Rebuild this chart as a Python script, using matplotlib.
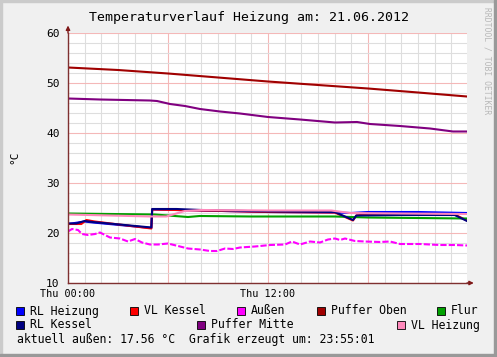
import matplotlib
matplotlib.use("Agg")
import matplotlib.pyplot as plt
from matplotlib.patches import Rectangle
from matplotlib.ticker import MultipleLocator

# hours since Thu 00:00 -> temperature in °C
t_rl_heizung = [0, 1.0, 1.5, 5.0, 5.05, 8, 12, 16.0, 17.0, 18.0, 21.0, 23.94]
v_rl_heizung = [21.8, 22.3, 22.1, 21.0, 24.7, 24.5, 24.2, 24.1, 24.0, 24.2, 24.2, 24.0]

t_vl_kessel = [0, 0.8, 1.1, 1.6, 5.0, 5.05, 8, 12, 16.0, 17.1, 17.3, 18.0, 23.2, 23.94]
v_vl_kessel = [21.8, 21.8, 22.6, 22.3, 20.9, 24.7, 24.5, 24.2, 24.1, 22.5, 23.5, 23.8, 23.7, 22.5]

t_aussen = [0, 0.24, 0.6, 0.84, 1.2, 1.62, 1.92, 2.52, 3.12, 3.6, 4.02, 4.44, 4.92,
            5.4, 6.0, 6.6, 7.2, 7.92, 8.52, 8.94, 9.42, 9.9, 10.32, 11.22, 12.12,
            13.02, 13.44, 13.92, 14.52, 15.12, 15.6, 16.02, 16.32, 16.62, 17.22,
            17.82, 18.72, 19.32, 19.92, 21.12, 22.32, 23.22, 23.94]
v_aussen = [20.3, 20.8, 20.6, 19.8, 19.6, 19.8, 20.1, 19.1, 18.9, 18.3, 18.8, 18.1, 17.7,
            17.7, 17.9, 17.4, 16.9, 16.7, 16.4, 16.4, 16.9, 16.8, 17.1, 17.3, 17.6,
            17.7, 18.3, 17.7, 18.3, 18.1, 18.7, 18.9, 18.6, 18.9, 18.4,
            18.3, 18.2, 18.3, 17.8, 17.8, 17.6, 17.6, 17.5]

t_puffer_oben = [0, 3, 6, 9, 12, 15, 18, 21, 23.94]
v_puffer_oben = [53.1, 52.6, 51.9, 51.1, 50.3, 49.6, 48.9, 48.1, 47.3]

t_flur = [0, 5.2, 7.2, 7.9, 11, 16, 18, 21, 23.94]
v_flur = [23.9, 23.7, 23.2, 23.4, 23.3, 23.3, 23.1, 23.0, 22.9]

t_rl_kessel = [0, 0.5, 1.0, 1.5, 5.0, 5.05, 6.5, 8, 12, 16.0, 17.1, 17.3, 20, 23.2, 23.94]
v_rl_kessel = [21.9, 21.9, 22.4, 22.2, 21.1, 24.8, 24.8, 24.6, 24.3, 24.2, 22.6, 23.5, 23.6, 23.6, 22.4]

t_puffer_mitte = [0, 1.92, 4.92, 5.34, 6.12, 7.02, 7.92, 9.12, 10.32, 12, 13.92,
                  16.02, 17.34, 18.12, 19.92, 21.72, 23.1, 23.94]
v_puffer_mitte = [46.9, 46.7, 46.5, 46.4, 45.8, 45.4, 44.8, 44.3, 43.9, 43.2, 42.7,
                  42.1, 42.2, 41.8, 41.4, 40.9, 40.3, 40.3]

t_vl_heizung = [0, 5.0, 5.9, 7.0, 8.0, 12, 15.8, 16.9, 20, 23.94]
v_vl_heizung = [23.7, 23.3, 23.3, 24.4, 24.6, 24.5, 24.5, 24.0, 23.9, 23.8]

names = ["RL Heizung", "VL Kessel", "Außen", "Puffer Oben", "Flur",
         "RL Kessel", "Puffer Mitte", "VL Heizung"]
colors = ["#0000FF", "#FF0000", "#FF00FF", "#A00000", "#00A000",
          "#000080", "#800080", "#FF88BB"]
series = [(t_rl_heizung, v_rl_heizung), (t_vl_kessel, v_vl_kessel),
          (t_aussen, v_aussen), (t_puffer_oben, v_puffer_oben),
          (t_flur, v_flur), (t_rl_kessel, v_rl_kessel),
          (t_puffer_mitte, v_puffer_mitte), (t_vl_heizung, v_vl_heizung)]

x_ticks = [0, 6, 12, 18]
x_labels = ["Thu 00:00", "", "Thu 12:00", ""]

W, H = 497, 357
FONT = "DejaVu Sans Mono"
plt.rcParams["font.family"] = FONT


def fx(px):
    return px / W


def fy(py):
    return 1 - py / H


fig = plt.figure(figsize=(W / 100, H / 100), dpi=100, facecolor="#F0F0F0")

# shaded frame like rrdtool
fig.patches.append(Rectangle((0, fy(2)), 1, 2 / H, transform=fig.transFigure,
                             color="#CBCBCB", zorder=0))
fig.patches.append(Rectangle((0, 0), 2 / W, 1, transform=fig.transFigure,
                             color="#CBCBCB", zorder=0))
fig.patches.append(Rectangle((1 - 3 / W, 0), 3 / W, 1, transform=fig.transFigure,
                             color="#999999", zorder=0))
fig.patches.append(Rectangle((0, 0), 1, 3 / H, transform=fig.transFigure,
                             color="#999999", zorder=0))

ax = fig.add_axes([fx(68), fy(283), (467 - 68) / W, (283 - 33) / H])
ax.set_facecolor("white")

for (t, v), c, n in zip(series, colors, names):
    ls = (0, (3, 1)) if n == "Außen" else "-"
    ax.plot(t, v, color=c, lw=1.5, ls=ls, solid_joinstyle="round")

ax.set_xlim(0, 23.94)
ax.set_ylim(10, 60)
ax.set_xticks(x_ticks, labels=x_labels)
ax.xaxis.set_minor_locator(MultipleLocator(1))
ax.yaxis.set_major_locator(MultipleLocator(10))
ax.yaxis.set_minor_locator(MultipleLocator(2))
ax.grid(which="minor", color="#DEDEDE", lw=0.8)
ax.grid(which="major", color="#F4B8B8", lw=0.8)
ax.set_axisbelow(True)

for s in ["top", "right"]:
    ax.spines[s].set_visible(False)
for s in ["left", "bottom"]:
    ax.spines[s].set_color("#7F3030")
    ax.spines[s].set_linewidth(1.0)
    ax.spines[s].set_zorder(5)

ax.tick_params(which="both", length=0)
ax.tick_params(axis="y", labelsize=8, pad=6)
ax.tick_params(axis="x", labelsize=7.3, pad=4)

# axis arrows
ax.annotate("", xy=(0, 1.03), xytext=(0, 1.0), xycoords="axes fraction",
            arrowprops=dict(arrowstyle="-|>", color="#7F1818", lw=1,
                            mutation_scale=6, shrinkA=0, shrinkB=0))
ax.annotate("", xy=(1.017, 0), xytext=(1.0, 0), xycoords="axes fraction",
            arrowprops=dict(arrowstyle="-|>", color="#7F1818", lw=1,
                            mutation_scale=6, shrinkA=0, shrinkB=0))

fig.text(fx(249), fy(17), "Temperaturverlauf Heizung am: 21.06.2012",
         ha="center", va="center", fontsize=9.5)
fig.text(fx(14), fy(157), "°C", rotation=90, ha="center", va="center", fontsize=8)
fig.text(fx(487), fy(61), "RRDTOOL / TOBI OETIKER", rotation=270,
         ha="center", va="center", fontsize=5.8, color="#B8B8B8")

# legend
legend_pos = [(16, 311), (130, 311), (237, 311), (317, 311), (437, 311),
              (16, 325), (197, 325), (397, 325)]
for (lx, ly), c, n in zip(legend_pos, colors, names):
    fig.patches.append(Rectangle((fx(lx), fy(ly + 4)), 8 / W, 8 / H,
                                 transform=fig.transFigure, facecolor=c,
                                 edgecolor="black", lw=0.6))
    fig.text(fx(lx + 14), fy(ly), n, ha="left", va="center", fontsize=8.3)

fig.text(fx(17), fy(339), "aktuell außen: 17.56 °C  Grafik erzeugt um: 23:55:01",
         ha="left", va="center", fontsize=8.3)

fig.savefig("out.png", dpi=100, facecolor=fig.get_facecolor())
